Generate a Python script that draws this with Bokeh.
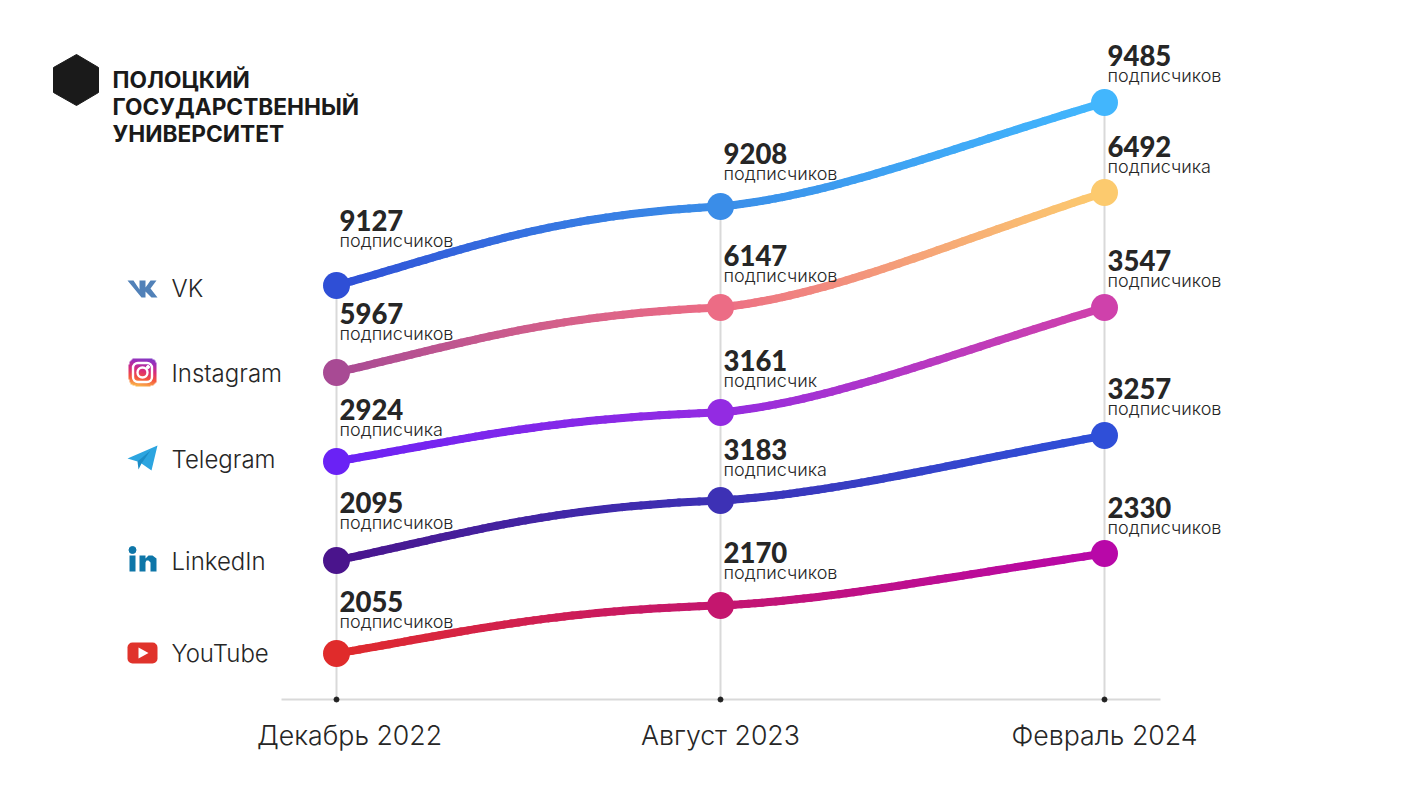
import numpy as np
from bokeh.plotting import figure
from bokeh.models import Range1d, LinearAxis, FixedTicker
from bokeh.core.properties import value
from bokeh.embed import file_html
from bokeh.resources import INLINE

# ---------- data ----------
months = ["Декабрь 2022", "Август 2023", "Февраль 2024"]
networks = ["VK", "Instagram", "Telegram", "LinkedIn", "YouTube"]

vk_subs = [9127, 9208, 9485]
instagram_subs = [5967, 6147, 6492]
telegram_subs = [2924, 3161, 3547]
linkedin_subs = [2095, 3183, 3257]
youtube_subs = [2055, 2170, 2330]

vk_words = ["подписчиков", "подписчиков", "подписчиков"]
instagram_words = ["подписчиков", "подписчиков", "подписчика"]
telegram_words = ["подписчика", "подписчик", "подписчиков"]
linkedin_words = ["подписчиков", "подписчика", "подписчиков"]
youtube_words = ["подписчиков", "подписчиков", "подписчиков"]

# the original is not to scale: drawn height of each point above the axis
vk_level = [414, 493, 597]
instagram_level = [327, 392, 507]
telegram_level = [238, 287, 392]
linkedin_level = [139, 199, 264]
youtube_level = [46, 94, 146]

vk_colors = ["#2f4fd6", "#3a8de8", "#42b6fd"]
instagram_colors = ["#a84a94", "#ec6c85", "#fcca6e"]
telegram_colors = ["#6a22f5", "#932be2", "#cf41ab"]
linkedin_colors = ["#4a148c", "#3d31b5", "#2f4fd8"]
youtube_colors = ["#e02b2b", "#c4166e", "#b808a8"]

series = [
    (vk_subs, vk_words, vk_level, vk_colors),
    (instagram_subs, instagram_words, instagram_level, instagram_colors),
    (telegram_subs, telegram_words, telegram_level, telegram_colors),
    (linkedin_subs, linkedin_words, linkedin_level, linkedin_colors),
    (youtube_subs, youtube_words, youtube_level, youtube_colors),
]

# ---------- layout ----------
W, H = 1422, 800
FRAME_H = 780
X0, DX, Y0 = 336.0, 384.0, 699.0           # page pixels of month 0, month step, axis
def px(x): return (np.asarray(x, float) - X0) / DX
def py(y): return Y0 - np.asarray(y, float)

INK = "#262626"
BODY_FONT = "Inter Light, Inter"
NUM_FONT = "Lato Black, Lato"

p = figure(width=W, height=H, frame_width=W, frame_height=FRAME_H,
           output_backend="svg", toolbar_location=None,
           x_range=Range1d(float(px(0)), float(px(W))),
           y_range=Range1d(float(py(FRAME_H)), float(py(0))),
           x_axis_location=None, y_axis_location=None, min_border=0,
           min_border_bottom=H - FRAME_H,
           outline_line_color=None, background_fill_color="white",
           border_fill_color="white")
p.grid.visible = False

# ---------- axis ----------
axis = LinearAxis(fixed_location=0, bounds=(float(px(281)), float(px(1160))),
                  ticker=FixedTicker(ticks=[0, 1, 2]),
                  major_label_overrides={0: "", 1: "", 2: ""},
                  axis_line_color="#d9d9d9", axis_line_width=2,
                  major_tick_line_color=None, minor_tick_line_color=None)
p.add_layout(axis, "below")

# vertical guides up to the highest point of each month, with a dot at the axis
xs_idx = [0, 1, 2]
tops = [max(s[2][i] for s in series) for i in xs_idx]
p.segment(x0=xs_idx, y0=[0, 0, 0], x1=xs_idx, y1=tops, line_color="#d9d9d9", line_width=2)
p.scatter(x=xs_idx, y=[0, 0, 0], size=5, color="#222222", level="overlay")

# month labels: the first one sits right of its tick in the original
month_shift = [13, 0, 0]
p.text(x=xs_idx, y=[float(py(734))] * 3, text=months, x_offset=month_shift,
       text_align="center", text_baseline="middle", text_font=value(BODY_FONT),
       text_font_size="26.7px", text_color=INK)

# ---------- curves ----------
def hex2rgb(c): return np.array([int(c[i:i + 2], 16) for i in (1, 3, 5)], float)
def rgb2hex(v): return "#%02x%02x%02x" % tuple(int(round(a)) for a in v)

def bezier(a, b, c, d, t):
    return (1-t)**3*a + 3*(1-t)**2*t*b + 3*(1-t)*t**2*c + t**3*d

seg_x, seg_y, seg_c = [], [], []
N = 48
ts = np.linspace(0, 1, N + 1)
for subs, words, level, colors in series:
    h0, h1, h2 = level
    c1, c2 = h1 - h0, h2 - h1
    # handles: steep at both ends, nearly flat through the middle month
    spans = [
        ((0.33, h0 + 0.33 * 1.35 * c1), (0.55, h1 - 0.45 * 0.25 * c1), h0, h1),
        ((0.29, h1 + 0.29 * 0.37 * c2), (0.56, h2 - 0.44 * 1.10 * c2), h1, h2),
    ]
    for k, (ca, cb, a_h, b_h) in enumerate(spans):
        bx = bezier(0.0, ca[0], cb[0], 1.0, ts) + k
        by = bezier(a_h, ca[1], cb[1], b_h, ts)
        a, b = hex2rgb(colors[k]), hex2rgb(colors[k + 1])
        for j in range(N):
            seg_x.append([bx[j], bx[j + 1]])
            seg_y.append([by[j], by[j + 1]])
            seg_c.append(rgb2hex(a + (b - a) * (ts[j] + ts[j + 1]) / 2))
p.multi_line(xs=seg_x, ys=seg_y, line_color=seg_c, line_width=8, line_cap="round")

mx, my, mc = [], [], []
for subs, words, level, colors in series:
    mx += xs_idx; my += level; mc += colors
p.scatter(x=mx, y=my, size=27, fill_color=mc, line_color=None)

# ---------- value labels ----------
# lift of each number above its point, per month column, per series (page pixels)
lift_dec = [64, 58, 51, 57, 51]
lift_aug = [52, 51, 51, 50, 52]
lift_feb = [46, 45, 46, 46, 45]
lx, ln, lw, ly_n, ly_w = [], [], [], [], []
for si, (subs, words, level, colors) in enumerate(series):
    for i, lifts in enumerate((lift_dec, lift_aug, lift_feb)):
        lx.append(i); ln.append(str(subs[i])); lw.append(words[i])
        ly_n.append(level[i] + lifts[si] + 1); ly_w.append(level[i] + lifts[si] - 18.5)
p.text(x=lx, y=ly_n, text=ln, x_offset=3, text_baseline="middle", text_align="left",
       text_font=value(NUM_FONT), text_font_style="bold", text_font_size="27.5px", text_color=INK)
p.text(x=lx, y=ly_w, text=lw, x_offset=3, text_baseline="middle", text_align="left",
       text_font=value(BODY_FONT), text_font_size="18px", text_color=INK)

# ---------- legend labels ----------
legend_y = [288, 373, 459, 561, 653]
p.text(x=px([171] * 5).tolist(), y=py(legend_y).tolist(), text=networks,
       text_baseline="middle", text_align="left", text_font=value(BODY_FONT),
       text_font_size="24px", text_color=INK)

# ---------- university logo ----------
hex_x, hex_y = [76, 98, 98, 76, 53, 53], [54, 67, 92, 105, 92, 67]
p.patch(px(hex_x).tolist(), py(hex_y).tolist(), color="#1a1a1a")
logo_lines = ["ПОЛОЦКИЙ", "ГОСУДАРСТВЕННЫЙ", "УНИВЕРСИТЕТ"]
p.text(x=px([112] * 3).tolist(), y=py([79, 106, 133]).tolist(), text=logo_lines,
       text_baseline="middle", text_align="left", text_font=value("Inter"),
       text_font_style="bold", text_font_size="22.7px", text_color="#1a1a1a")

# ---------- icons ----------
def poly(pts, color):
    a = np.array(pts, float)
    p.patch(px(a[:, 0]).tolist(), py(a[:, 1]).tolist(), color=color, line_width=0)

# VK
poly([(127, 280), (133, 280), (139, 289), (139, 280), (145, 280), (145, 287), (150, 280),
      (156, 280), (150, 288), (157, 297), (151, 297), (145, 291), (145, 297), (141, 297)], "#5181b8")

# Instagram: gradient square, yellow at the bottom to violet at the top
n = 56
yy, xx = np.mgrid[0:n, 0:n]
t = np.clip((0.85 * yy + 0.15 * xx) / (n - 1), 0, 1)  # image rows run bottom up in data
stops = [(0.0, "#fcc84f"), (0.3, "#f5563e"), (0.55, "#d92c7a"), (0.8, "#a12fb8"), (1.0, "#7a3cc8")]
rgba = np.zeros((n, n), dtype=np.uint32)
view = rgba.view(np.uint8).reshape((n, n, 4))
sp = [s[0] for s in stops]
for ch in range(3):
    view[:, :, ch] = np.interp(t, sp, [hex2rgb(s[1])[ch] for s in stops]).astype(np.uint8)
r = 13.0; c = (n - 1) / 2
dx = np.maximum(np.abs(xx - c) - (c - r), 0); dy = np.maximum(np.abs(yy - c) - (c - r), 0)
view[:, :, 3] = np.where(dx**2 + dy**2 <= r**2, 255, 0).astype(np.uint8)
p.image_rgba(image=[rgba], x=[float(px(128))], y=[float(py(386))],
             dw=[float(px(156) - px(128))], dh=[28])
p.quad(left=[float(px(132.5))], right=[float(px(151.5))], top=[float(py(362.5))], bottom=[float(py(381.5))],
       fill_color=None, line_color="white", line_width=2.4, border_radius=5)
p.scatter(x=px([142]).tolist(), y=py([372]).tolist(), size=10, fill_color=None,
          line_color="white", line_width=2.4)
p.scatter(x=px([147.5]).tolist(), y=py([366.5]).tolist(), size=3, color="white")

# Telegram
poly([(127, 458), (157, 445), (151, 470), (141, 463), (137, 461)], "#2ca5e0")
poly([(137, 461), (150, 450), (141, 463), (138, 469)], "#1b8cc6")

# LinkedIn
LI = "#0e76a8"
p.scatter(x=px([132]).tolist(), y=py([549.5]).tolist(), size=7, color=LI)
poly([(129, 555), (135, 555), (135, 571), (129, 571)], LI)
poly([(139, 555), (145, 555), (145, 558), (148, 555), (152, 555), (156, 558), (156, 571),
      (150, 571), (150, 562), (148, 560), (146, 560), (145, 562), (145, 571), (139, 571)], LI)

# YouTube
p.quad(left=[float(px(127))], right=[float(px(157))], top=[float(py(642))], bottom=[float(py(663))],
       fill_color="#e0332b", line_color=None, border_radius=5)
poly([(138, 647), (148, 652.5), (138, 658)], "white")

open("out.html", "w").write(file_html(p, INLINE))
